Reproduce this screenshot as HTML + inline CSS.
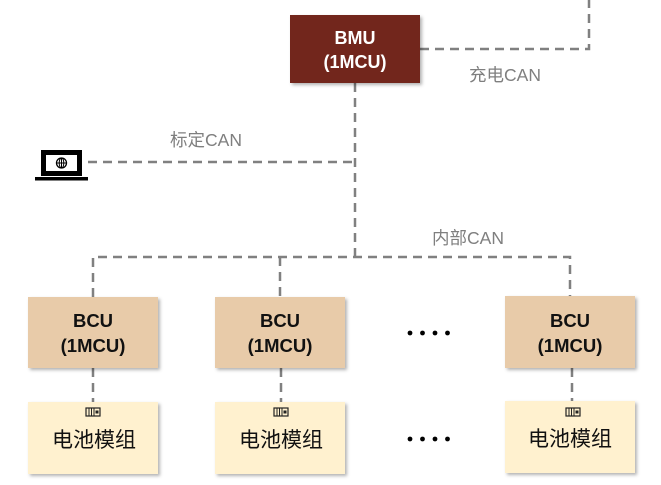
<!DOCTYPE html>
<html><head><meta charset="utf-8"><style>
html,body{margin:0;padding:0;background:#fff;width:661px;height:485px;overflow:hidden}
svg text{font-family:"Liberation Sans","Noto Sans CJK SC",sans-serif}
</style></head><body>
<svg width="661" height="485" viewBox="0 0 661 485" xmlns="http://www.w3.org/2000/svg">
<defs><filter id="sh" x="-10%" y="-10%" width="130%" height="130%"><feDropShadow dx="2" dy="2" stdDeviation="1.5" flood-color="#000" flood-opacity="0.3"/></filter></defs>
<g stroke="#808080" stroke-width="2.5" stroke-dasharray="9,6" fill="none">
<path d="M355 83 V257"/>
<path d="M88 162 H355"/>
<path d="M420 49 H589 V0"/>
<path d="M93 297 V257 H570 V297"/>
<path d="M280 257 V297"/>
<path d="M93 368 V402"/>
<path d="M281 368 V402"/>
<path d="M572 368 V402"/>
</g>
<rect x="290" y="15" width="130" height="68" fill="#72261b" filter="url(#sh)"/>
<text x="355" y="44" fill="#fff" font-size="18" font-weight="bold" text-anchor="middle">BMU</text>
<text x="355" y="68" fill="#fff" font-size="18" font-weight="bold" text-anchor="middle">(1MCU)</text>
<text x="505" y="81" fill="#7f7f7f" font-size="17.5" text-anchor="middle">充电CAN</text>
<text x="206" y="146" fill="#7f7f7f" font-size="17.5" text-anchor="middle">标定CAN</text>
<text x="468" y="244" fill="#7f7f7f" font-size="17.5" text-anchor="middle">内部CAN</text>
<!-- laptop -->
<rect x="41" y="150" width="41" height="26" fill="#000"/>
<rect x="46" y="155" width="31" height="16" fill="#fff"/>
<circle cx="61.5" cy="163" r="5" fill="none" stroke="#000" stroke-width="1.3"/>
<path d="M56.5 163 H66.5 M61.5 158 V168" stroke="#000" stroke-width="1"/>
<ellipse cx="61.5" cy="163" rx="2.3" ry="5" fill="none" stroke="#000" stroke-width="1"/>
<rect x="35" y="177" width="53" height="3.5" fill="#000"/>
<g font-size="18.5" font-weight="bold" fill="#111" text-anchor="middle">
<rect x="28" y="297" width="130" height="71" fill="#e8cba9" filter="url(#sh)"/>
<text x="93" y="327">BCU</text><text x="93" y="352">(1MCU)</text>
<rect x="215" y="297" width="130" height="71" fill="#e8cba9" filter="url(#sh)"/>
<text x="280" y="327">BCU</text><text x="280" y="352">(1MCU)</text>
<rect x="505" y="296" width="130" height="72" fill="#e8cba9" filter="url(#sh)"/>
<text x="570" y="327">BCU</text><text x="570" y="352">(1MCU)</text>
</g>
<g fill="#fff1cf" filter="url(#sh)">
<rect x="28" y="402" width="130" height="72"/>
<rect x="215" y="402" width="130" height="72"/>
<rect x="505" y="401" width="130" height="72"/>
</g>
<g>
<g transform="translate(86,408)"><rect width="14" height="8" fill="none" stroke="#222" stroke-width="1.2"/><path d="M3 0V8M5.5 0V8M8 0V8" stroke="#222"/><rect x="9.5" y="2.5" width="3" height="3" fill="#222"/></g>
<g transform="translate(274,408)"><rect width="14" height="8" fill="none" stroke="#222" stroke-width="1.2"/><path d="M3 0V8M5.5 0V8M8 0V8" stroke="#222"/><rect x="9.5" y="2.5" width="3" height="3" fill="#222"/></g>
<g transform="translate(566,408)"><rect width="14" height="8" fill="none" stroke="#222" stroke-width="1.2"/><path d="M3 0V8M5.5 0V8M8 0V8" stroke="#222"/><rect x="9.5" y="2.5" width="3" height="3" fill="#222"/></g>
</g>
<g font-size="21" fill="#111" text-anchor="middle">
<text x="94" y="447">电池模组</text>
<text x="281" y="447">电池模组</text>
<text x="570" y="446">电池模组</text>
</g>
<g fill="#000">
<circle cx="410" cy="333" r="2.4"/><circle cx="422.5" cy="333" r="2.4"/><circle cx="435" cy="333" r="2.4"/><circle cx="447.5" cy="333" r="2.4"/>
<circle cx="410" cy="439" r="2.4"/><circle cx="422.5" cy="439" r="2.4"/><circle cx="435" cy="439" r="2.4"/><circle cx="447.5" cy="439" r="2.4"/>
</g>
</svg>
</body></html>
